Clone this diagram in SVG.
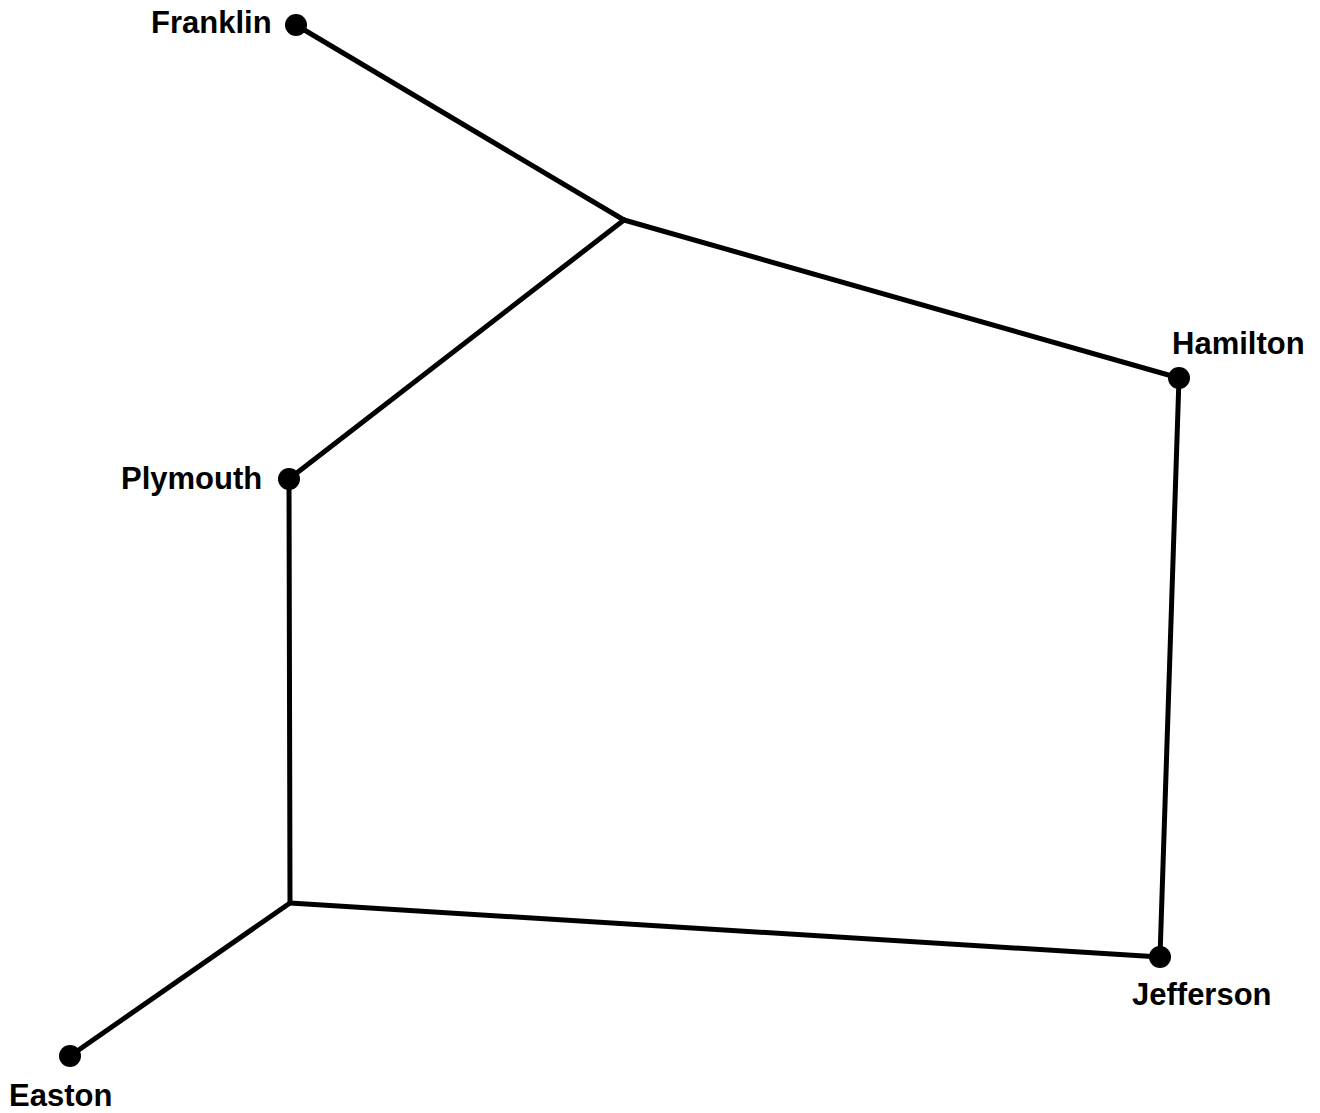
<svg xmlns="http://www.w3.org/2000/svg" width="1320" height="1113" viewBox="0 0 1320 1113">
<style>
.edge{stroke:#000;stroke-width:5;fill:none;stroke-linecap:round;stroke-linejoin:round}
.dot{fill:#000}
.lbl{font-family:"Liberation Sans",Arial,sans-serif;font-weight:bold;font-size:31px;fill:#000}
</style>
<rect width="1320" height="1113" fill="#fff"/>
<g id="connectors">
<line class="edge" x1="296" y1="25" x2="624" y2="220"/>
<line class="edge" x1="624" y1="220" x2="1179" y2="378"/>
<line class="edge" x1="624" y1="220" x2="289" y2="479"/>
<line class="edge" x1="289" y1="479" x2="290" y2="903"/>
<line class="edge" x1="1179" y1="378" x2="1160" y2="957"/>
<line class="edge" x1="290" y1="903" x2="1160" y2="957"/>
<line class="edge" x1="290" y1="903" x2="70" y2="1056"/>
</g>
<g id="franklin"><circle class="dot" cx="296" cy="25" r="11"/><text class="lbl" x="151" y="33">Franklin</text></g>
<g id="hamilton"><circle class="dot" cx="1179" cy="378" r="11"/><text class="lbl" x="1172" y="354">Hamilton</text></g>
<g id="plymouth"><circle class="dot" cx="289" cy="479" r="11"/><text class="lbl" x="121" y="489">Plymouth</text></g>
<g id="jefferson"><circle class="dot" cx="1160" cy="957" r="11"/><text class="lbl" x="1132" y="1005">Jefferson</text></g>
<g id="easton"><circle class="dot" cx="70" cy="1056" r="11"/><text class="lbl" x="9" y="1106">Easton</text></g>
</svg>
